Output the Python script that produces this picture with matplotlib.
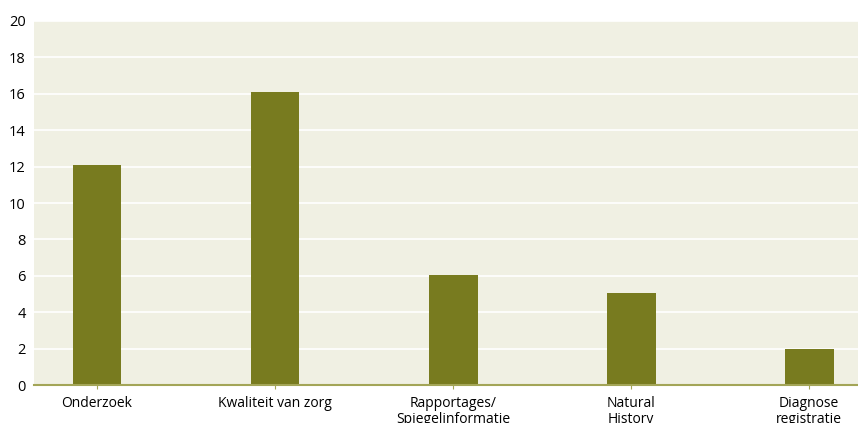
import matplotlib
matplotlib.use("Agg")
import matplotlib.pyplot as plt

categories = ["Onderzoek", "Kwaliteit van zorg", "Rapportages/\nSpiegelinformatie",
              "Natural\nHistory", "Diagnose\nregistratie"]
values = [12.1, 16.1, 6.05, 5.05, 2.0]
yticks = [0, 2, 4, 6, 8, 10, 12, 14, 16, 18, 20]

plt.rcParams['font.family'] = ['Open Sans', 'DejaVu Sans']

fig = plt.figure(figsize=(8.58, 4.23), dpi=100)
ax = fig.add_axes([34/858, 38/423, 824/858, 364/423])
ax.set_facecolor('#f0f0e3')

x = list(range(len(categories)))
ax.bar(x, values, width=0.275, color='#787b1f', zorder=3)

ax.set_xlim(-0.354, 4.275)
ax.set_ylim(0, 20)
ax.set_yticks(yticks)
ax.set_xticks(x)
ax.set_xticklabels(categories, fontsize=10, linespacing=1.05, va='top')
ax.tick_params(axis='y', length=0, labelsize=10.5, pad=6)
ax.tick_params(axis='x', length=3, color='#a3a557', pad=5)
ax.yaxis.grid(True, color='white', linewidth=1.2, zorder=0)
for s in ['top', 'right', 'left']:
    ax.spines[s].set_visible(False)
ax.spines['bottom'].set_color('#a3a557')
ax.spines['bottom'].set_linewidth(1.5)
ax.spines['bottom'].set_zorder(4)

fig.savefig('out.png', dpi=100)
